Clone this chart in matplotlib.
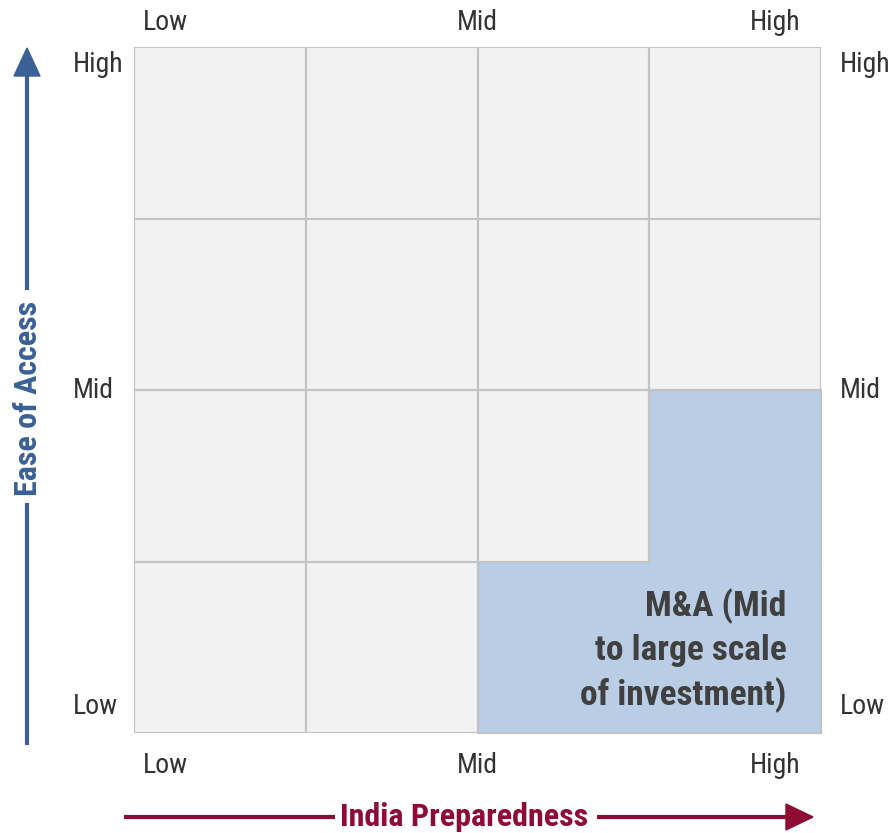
import matplotlib.pyplot as plt
from matplotlib.patches import Rectangle, Polygon
from matplotlib import font_manager

# 4x4 matrix: columns = India Preparedness, rows = Ease of Access
n_cells = 4
level_labels = ["Low", "Mid", "High"]
level_pos = [0, 2, 4]
highlight = [(2, 0), (3, 0), (3, 1)]  # (col, row) cells of the M&A zone
highlight_text = "M&A (Mid\nto large scale\nof investment)"
x_title = "India Preparedness"
y_title = "Ease of Access"

names = {f.name for f in font_manager.fontManager.ttflist}
narrow = next((n for n in ["Liberation Sans Narrow", "Arimo Narrow", "Roboto Condensed",
                           "Archivo Narrow", "Open Sans Condensed"] if n in names), "Liberation Sans")
plt.rcParams["font.family"] = [narrow, "DejaVu Sans"]

W, H = 893, 833
fig = plt.figure(figsize=(W / 100, H / 100), dpi=100)

# overlay in pixel coordinates for the axis arrows
ov = fig.add_axes([0, 0, 1, 1])
ov.set_xlim(0, W)
ov.set_ylim(H, 0)
ov.axis("off")

gl, gr, gt, gb = 134, 821, 47, 733
ax = fig.add_axes([gl / W, 1 - gb / H, (gr - gl) / W, (gb - gt) / H])
ax.set_xlim(0, n_cells)
ax.set_ylim(0, n_cells)
ax.axis("off")

grey_fill = "#f2f2f2"
edge = "#c3c3c3"
blue_fill = "#b9cde5"

for c in range(n_cells):
    for r in range(n_cells):
        if (c, r) in highlight:
            ax.add_patch(Rectangle((c, r), 1, 1, facecolor=blue_fill, edgecolor="none", zorder=1))
        else:
            ax.add_patch(Rectangle((c, r), 1, 1, facecolor=grey_fill, edgecolor=edge, lw=1.5, zorder=2))

# outline of the highlighted zone only on its outer boundary
for c, r in highlight:
    sides = [((c, r), (c + 1, r), (c, r - 1)),
             ((c, r + 1), (c + 1, r + 1), (c, r + 1)),
             ((c, r), (c, r + 1), (c - 1, r)),
             ((c + 1, r), (c + 1, r + 1), (c + 1, r))]
    for p0, p1, nb in sides:
        if nb not in highlight:
            ax.plot([p0[0], p1[0]], [p0[1], p1[1]], color=edge, lw=1.5, zorder=3,
                    solid_capstyle="projecting", clip_on=False)

ax.text(3.8, 0.48, highlight_text, ha="right", va="center", fontsize=25.5,
        fontweight="bold", color="#404040", linespacing=1.36, zorder=4)

lab_kw = dict(fontsize=20, color="#333333", clip_on=False)
x_ha = ["left", "center", "right"]
x_off = [0.05, 0.0, -0.12]
for lab, p, ha, o in zip(level_labels, level_pos, x_ha, x_off):
    ax.text(p + o, 4.145, lab, ha=ha, va="center", **lab_kw)
    ax.text(p + o, -0.19, lab, ha=ha, va="center", **lab_kw)
y_off = [0.155, 0.0, -0.1]
for lab, p, o in zip(level_labels, level_pos, y_off):
    ax.text(-0.355, p + o, lab, ha="left", va="center", **lab_kw)
    ax.text(4.11, p + o, lab, ha="left", va="center", **lab_kw)

# vertical axis arrow
blue = "#3a6095"
ov.plot([27, 27], [745, 503], color=blue, lw=3, solid_capstyle="butt")
ov.plot([27, 27], [290, 72], color=blue, lw=3, solid_capstyle="butt")
ov.add_patch(Polygon([[14, 76], [40, 76], [27, 48]], closed=True, color=blue))
ov.text(28, 398, y_title, rotation=90, ha="center", va="center", fontsize=23,
        fontweight="bold", color=blue)

# horizontal axis arrow
red = "#8d0b35"
ov.plot([124, 335], [817, 817], color=red, lw=3, solid_capstyle="butt")
ov.plot([597, 790], [817, 817], color=red, lw=3, solid_capstyle="butt")
ov.add_patch(Polygon([[786, 804], [786, 830], [813, 817]], closed=True, color=red))
ov.text(464, 817, x_title, ha="center", va="center", fontsize=23,
        fontweight="bold", color=red)

fig.savefig("out.png", dpi=100)
